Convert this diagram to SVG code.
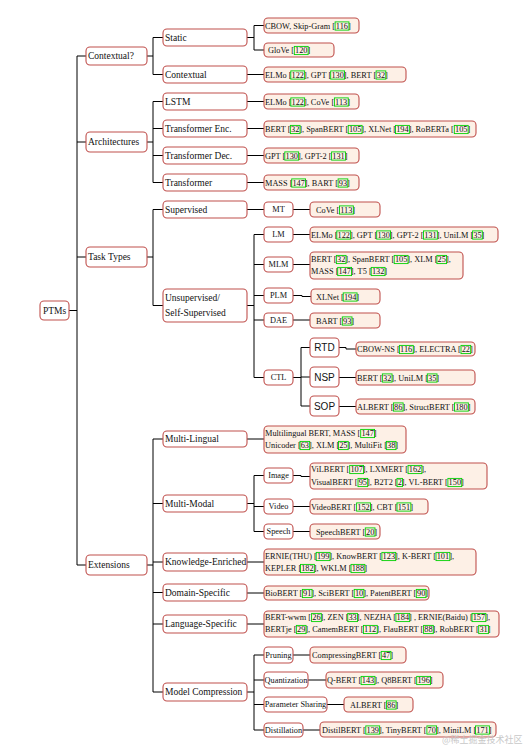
<svg xmlns="http://www.w3.org/2000/svg" width="523" height="745" viewBox="0 0 523 745">
<style>
.n{fill:#fff;stroke:#c0504d;stroke-width:1.1}
.l{fill:#fdf0e6;stroke:#c0504d;stroke-width:1.1}
.t1{font-family:"Liberation Serif",serif;font-size:9.5px;fill:#111}
.t{font-family:"Liberation Serif",serif;font-size:8.3px;fill:#111}
.m{text-anchor:middle}
.s{font-family:"Liberation Sans",sans-serif;font-size:10px;fill:#111;text-anchor:middle}
.c{fill:none;stroke:#00d000;stroke-width:0.9}
.e{fill:none;stroke:#000;stroke-width:1}
.w{font-family:"Noto Sans CJK SC",sans-serif;font-size:9px;fill:#c8c8c8}
</style>
<rect width="523" height="745" fill="#fff"/>
<g id="connectors" class="e">
<path d="M69 310.5H77M77 56V565M77 56H86M77 142H86M77 257H86M77 565H86"/>
<path d="M147 56H153M153 37.5V74.5M153 37.5H163M153 74.5H163"/>
<path d="M147 142H153M153 101.5V182.5M153 101.5H163M153 128.5H163M153 155.5H163M153 182.5H163"/>
<path d="M147 257H153M153 209.5V305.5M153 209.5H163M153 305.5H163"/>
<path d="M147 565H153M153 439V692M153 439H163M153 503.5H163M153 562H163M153 592.5H163M153 624H163M153 692H163"/>
<path d="M247 37.5H254M254 25.5V50M254 25.5H264M254 50H264"/>
<path d="M247 74.5H264M247 101.5H264M247 128.5H264M247 155.5H264M247 182.5H264"/>
<path d="M247 209.5H264M293 209.5H310"/>
<path d="M247 305.5H254M254 234.5V377.5M254 234.5H264M254 264.5H264M254 295.5H264M254 320H264M254 377.5H264"/>
<path d="M293 234.5H310M293 264.5H310M293 295.5H302V296.5H311M293 320H310"/>
<path d="M293 377.5H301M301 347.5V406M301 347.5H310M301 377H310M301 406H310"/>
<path d="M339 347.5H346V349H356M339 377.5H356M339 406.5H356"/>
<path d="M247 439H264"/>
<path d="M247 503.5H254M254 475.5V531.5M254 475.5H264M254 506.5H264M254 531.5H264"/>
<path d="M293 475.5H301V476.5H310M293 506.5H310M293 531.5H310"/>
<path d="M247 562H264M247 593H264M247 624H264"/>
<path d="M247 692H254M254 655V730M254 655H264M254 680H264M254 704.5H264M254 730H264"/>
<path d="M293 655H310M308 680H326M327 704.5H344M303 730H320"/>
</g>
<g id="ptms"><rect class="n" x="40" y="301" width="29" height="19" rx="4"/><text class="t1 m" x="54.5" y="313.8">PTMs</text></g>
<g id="contextual-q"><rect class="n" x="86" y="47" width="61" height="18" rx="4"/><text class="t1" x="88" y="59.3">Contextual?</text></g>
<g id="architectures"><rect class="n" x="86" y="132" width="61" height="20" rx="4"/><text class="t1" x="88" y="145.3">Architectures</text></g>
<g id="task-types"><rect class="n" x="86" y="247" width="61" height="20" rx="4"/><text class="t1" x="88" y="260.3">Task Types</text></g>
<g id="extensions"><rect class="n" x="86" y="555" width="61" height="20" rx="4"/><text class="t1" x="88" y="568.3">Extensions</text></g>
<g id="static"><rect class="n" x="163" y="29" width="84" height="17" rx="4"/><text class="t1" x="165" y="40.8">Static</text></g>
<g id="contextual"><rect class="n" x="163" y="66" width="84" height="17" rx="4"/><text class="t1" x="165" y="77.8">Contextual</text></g>
<g id="lstm"><rect class="n" x="163" y="93" width="84" height="17" rx="4"/><text class="t1" x="165" y="104.8">LSTM</text></g>
<g id="tr-enc"><rect class="n" x="163" y="120" width="84" height="17" rx="4"/><text class="t1" x="165" y="131.8">Transformer Enc.</text></g>
<g id="tr-dec"><rect class="n" x="163" y="147" width="84" height="17" rx="4"/><text class="t1" x="165" y="158.8">Transformer Dec.</text></g>
<g id="transformer"><rect class="n" x="163" y="174" width="84" height="17" rx="4"/><text class="t1" x="165" y="185.8">Transformer</text></g>
<g id="supervised"><rect class="n" x="163" y="201" width="84" height="17" rx="4"/><text class="t1" x="165" y="212.8">Supervised</text></g>
<g id="unsupervised"><rect class="n" x="163" y="289" width="84" height="33" rx="4"/><text class="t1" x="165" y="301">Unsupervised/</text><text class="t1" x="165" y="316">Self-Supervised</text></g>
<g id="multi-lingual"><rect class="n" x="163" y="431" width="84" height="16" rx="4"/><text class="t1" x="165" y="442.3">Multi-Lingual</text></g>
<g id="multi-modal"><rect class="n" x="163" y="495" width="84" height="17" rx="4"/><text class="t1" x="165" y="506.8">Multi-Modal</text></g>
<g id="knowledge"><rect class="n" x="163" y="553" width="84" height="18" rx="4"/><text class="t1" x="165" y="565.3">Knowledge-Enriched</text></g>
<g id="domain"><rect class="n" x="163" y="584" width="84" height="17" rx="4"/><text class="t1" x="165" y="595.8">Domain-Specific</text></g>
<g id="language"><rect class="n" x="163" y="615" width="84" height="18" rx="4"/><text class="t1" x="165" y="627.3">Language-Specific</text></g>
<g id="compression"><rect class="n" x="163" y="683" width="84" height="18" rx="4"/><text class="t1" x="165" y="695.3">Model Compression</text></g>
<g id="mt"><rect class="n" x="264" y="202" width="29" height="15" rx="4"/><text class="t m" x="278.5" y="212.4">MT</text></g>
<g id="lm"><rect class="n" x="264" y="227" width="29" height="15" rx="4"/><text class="t m" x="278.5" y="237.4">LM</text></g>
<g id="mlm"><rect class="n" x="264" y="257" width="29" height="15" rx="4"/><text class="t m" x="278.5" y="267.4">MLM</text></g>
<g id="plm"><rect class="n" x="264" y="288" width="29" height="15" rx="4"/><text class="t m" x="278.5" y="298.4">PLM</text></g>
<g id="dae"><rect class="n" x="264" y="313" width="29" height="14" rx="4"/><text class="t m" x="278.5" y="322.9">DAE</text></g>
<g id="ctl"><rect class="n" x="264" y="370" width="29" height="15" rx="4"/><text class="t m" x="278.5" y="380.4">CTL</text></g>
<g id="rtd"><rect class="n" x="310" y="338" width="29" height="19" rx="4"/><text class="s" x="324.5" y="351">RTD</text></g>
<g id="nsp"><rect class="n" x="310" y="367" width="29" height="20" rx="4"/><text class="s" x="324.5" y="380.5">NSP</text></g>
<g id="sop"><rect class="n" x="310" y="396" width="29" height="20" rx="4"/><text class="s" x="324.5" y="409.5">SOP</text></g>
<g id="image"><rect class="n" x="264" y="468" width="29" height="15" rx="4"/><text class="t m" x="278.5" y="478.4">Image</text></g>
<g id="video"><rect class="n" x="264" y="499" width="29" height="15" rx="4"/><text class="t m" x="278.5" y="509.4">Video</text></g>
<g id="speech"><rect class="n" x="264" y="524" width="29" height="15" rx="4"/><text class="t m" x="278.5" y="534.4">Speech</text></g>
<g id="pruning"><rect class="n" x="264" y="647" width="29" height="16" rx="4"/><text class="t m" x="278.5" y="657.9">Pruning</text></g>
<g id="quantization"><rect class="n" x="264" y="672" width="44" height="16" rx="4"/><text class="t m" x="286" y="682.9">Quantization</text></g>
<g id="param-sharing"><rect class="n" x="264" y="697" width="63" height="15" rx="4"/><text class="t m" x="295.5" y="707.4">Parameter Sharing</text></g>
<g id="distillation"><rect class="n" x="264" y="723" width="39" height="14" rx="4"/><text class="t m" x="283.5" y="732.9">Distillation</text></g>

<g id="leaf-cbow"><rect class="l" x="264" y="18" width="95" height="15" rx="4"/><text class="t" x="265" y="28.5">CBOW, Skip-Gram [<tspan x="335.8">116</tspan>]</text><rect class="c" x="335.1" y="21.9" width="13.85" height="8.2"/></g>
<g id="leaf-glove"><rect class="l" x="264" y="43" width="70" height="14" rx="4"/><text class="t" x="268" y="53">GloVe [<tspan x="295">120</tspan>]</text><rect class="c" x="294.3" y="46.4" width="13.85" height="8.2"/></g>
<g id="leaf-ctx"><rect class="l" x="264" y="67" width="142" height="15" rx="4"/><text class="t" x="265" y="77.5">ELMo [<tspan x="291.5">122</tspan>], GPT [<tspan x="331.4">130</tspan>], BERT [<tspan x="376.8">32</tspan>]</text><rect class="c" x="290.8" y="70.9" width="13.85" height="8.2"/><rect class="c" x="330.7" y="70.9" width="13.85" height="8.2"/><rect class="c" x="376.1" y="70.9" width="9.7" height="8.2"/></g>
<g id="leaf-lstm"><rect class="l" x="264" y="94" width="95" height="15" rx="4"/><text class="t" x="265" y="104.5">ELMo [<tspan x="291.5">122</tspan>], CoVe [<tspan x="335.1">113</tspan>]</text><rect class="c" x="290.8" y="97.9" width="13.85" height="8.2"/><rect class="c" x="334.4" y="97.9" width="13.85" height="8.2"/></g>
<g id="leaf-enc"><rect class="l" x="264" y="121" width="212" height="16" rx="4"/><text class="t" x="265" y="132">BERT [<tspan x="291.05">32</tspan>], SpanBERT [<tspan x="348.9">105</tspan>], XLNet [<tspan x="396.2">194</tspan>], RoBERTa [<tspan x="455">105</tspan>]</text><rect class="c" x="290.35" y="125.4" width="9.7" height="8.2"/><rect class="c" x="348.2" y="125.4" width="13.85" height="8.2"/><rect class="c" x="395.5" y="125.4" width="13.85" height="8.2"/><rect class="c" x="454.3" y="125.4" width="13.85" height="8.2"/></g>
<g id="leaf-dec"><rect class="l" x="264" y="148" width="95" height="15" rx="4"/><text class="t" x="265" y="158.5">GPT [<tspan x="285.5">130</tspan>], GPT-2 [<tspan x="332.3">131</tspan>]</text><rect class="c" x="284.8" y="151.9" width="13.85" height="8.2"/><rect class="c" x="331.6" y="151.9" width="13.85" height="8.2"/></g>
<g id="leaf-tr"><rect class="l" x="264" y="175" width="95" height="15" rx="4"/><text class="t" x="265" y="185.5">MASS [<tspan x="292.4">147</tspan>], BART [<tspan x="338.8">93</tspan>]</text><rect class="c" x="291.7" y="178.9" width="13.85" height="8.2"/><rect class="c" x="338.1" y="178.9" width="9.7" height="8.2"/></g>
<g id="leaf-mt"><rect class="l" x="310" y="202" width="70" height="15" rx="4"/><text class="t" x="316" y="212.5">CoVe [<tspan x="340.2">113</tspan>]</text><rect class="c" x="339.5" y="205.9" width="13.85" height="8.2"/></g>
<g id="leaf-lm"><rect class="l" x="310" y="227" width="188" height="15" rx="4"/><text class="t" x="311" y="237.5">ELMo [<tspan x="337.5">122</tspan>], GPT [<tspan x="377.4">130</tspan>], GPT-2 [<tspan x="424.2">131</tspan>], UniLM [<tspan x="473.3">35</tspan>]</text><rect class="c" x="336.8" y="230.9" width="13.85" height="8.2"/><rect class="c" x="376.7" y="230.9" width="13.85" height="8.2"/><rect class="c" x="423.5" y="230.9" width="13.85" height="8.2"/><rect class="c" x="472.6" y="230.9" width="9.7" height="8.2"/></g>
<g id="leaf-mlm"><rect class="l" x="310" y="252" width="153" height="27" rx="4"/><text class="t" x="311" y="262">BERT [<tspan x="337.05">32</tspan>], SpanBERT [<tspan x="394.9">105</tspan>], XLM [<tspan x="437.6">25</tspan>],</text><text class="t" x="311" y="274">MASS [<tspan x="338.4">147</tspan>], T5 [<tspan x="371.9">132</tspan>]</text><rect class="c" x="336.35" y="255.4" width="9.7" height="8.2"/><rect class="c" x="394.2" y="255.4" width="13.85" height="8.2"/><rect class="c" x="436.9" y="255.4" width="9.7" height="8.2"/><rect class="c" x="337.7" y="267.4" width="13.85" height="8.2"/><rect class="c" x="371.2" y="267.4" width="13.85" height="8.2"/></g>
<g id="leaf-plm"><rect class="l" x="311" y="289" width="69" height="15" rx="4"/><text class="t" x="316" y="299.5">XLNet [<tspan x="343.9">194</tspan>]</text><rect class="c" x="343.2" y="292.9" width="13.85" height="8.2"/></g>
<g id="leaf-dae"><rect class="l" x="310" y="313" width="70" height="15" rx="4"/><text class="t" x="316" y="323.5">BART [<tspan x="343">93</tspan>]</text><rect class="c" x="342.3" y="316.9" width="9.7" height="8.2"/></g>
<g id="leaf-rtd"><rect class="l" x="356" y="342" width="119" height="14" rx="4"/><text class="t" x="357" y="352">CBOW-NS [<tspan x="400.1">116</tspan>], ELECTRA [<tspan x="461.7">22</tspan>]</text><rect class="c" x="399.4" y="345.4" width="13.85" height="8.2"/><rect class="c" x="461" y="345.4" width="9.7" height="8.2"/></g>
<g id="leaf-nsp"><rect class="l" x="356" y="370" width="119" height="15" rx="4"/><text class="t" x="357" y="380.5">BERT [<tspan x="383.05">32</tspan>], UniLM [<tspan x="428">35</tspan>]</text><rect class="c" x="382.35" y="373.9" width="9.7" height="8.2"/><rect class="c" x="427.3" y="373.9" width="9.7" height="8.2"/></g>
<g id="leaf-sop"><rect class="l" x="356" y="399" width="119" height="15" rx="4"/><text class="t" x="357" y="409.5">ALBERT [<tspan x="394.1">86</tspan>], StructBERT [<tspan x="455.2">180</tspan>]</text><rect class="c" x="393.4" y="402.9" width="9.7" height="8.2"/><rect class="c" x="454.5" y="402.9" width="13.85" height="8.2"/></g>
<g id="leaf-ml"><rect class="l" x="264" y="426" width="142" height="27" rx="4"/><text class="t" x="265" y="436">Multilingual BERT, MASS [<tspan x="361.4">147</tspan>]</text><text class="t" x="265" y="448">Unicoder [<tspan x="300.7">63</tspan>], XLM [<tspan x="339.2">25</tspan>], MultiFit [<tspan x="387">38</tspan>]</text><rect class="c" x="360.7" y="429.4" width="13.85" height="8.2"/><rect class="c" x="300" y="441.4" width="9.7" height="8.2"/><rect class="c" x="338.5" y="441.4" width="9.7" height="8.2"/><rect class="c" x="386.3" y="441.4" width="9.7" height="8.2"/></g>
<g id="leaf-image"><rect class="l" x="310" y="463" width="177" height="26" rx="4"/><text class="t" x="311" y="472">ViLBERT [<tspan x="350.4">107</tspan>], LXMERT [<tspan x="408.75">162</tspan>],</text><text class="t" x="311" y="485">VisualBERT [<tspan x="358.7">95</tspan>], B2T2 [<tspan x="397.7">2</tspan>], VL-BERT [<tspan x="448.6">150</tspan>]</text><rect class="c" x="349.7" y="465.4" width="13.85" height="8.2"/><rect class="c" x="408.05" y="465.4" width="13.85" height="8.2"/><rect class="c" x="358" y="478.4" width="9.7" height="8.2"/><rect class="c" x="397" y="478.4" width="5.55" height="8.2"/><rect class="c" x="447.9" y="478.4" width="13.85" height="8.2"/></g>
<g id="leaf-video"><rect class="l" x="310" y="499" width="118" height="15" rx="4"/><text class="t" x="311" y="509.5">VideoBERT [<tspan x="357.3">152</tspan>], CBT [<tspan x="397.7">151</tspan>]</text><rect class="c" x="356.6" y="502.9" width="13.85" height="8.2"/><rect class="c" x="397" y="502.9" width="13.85" height="8.2"/></g>
<g id="leaf-speech"><rect class="l" x="310" y="524" width="70" height="15" rx="4"/><text class="t" x="316" y="534.5">SpeechBERT [<tspan x="366">20</tspan>]</text><rect class="c" x="365.3" y="527.9" width="9.7" height="8.2"/></g>
<g id="leaf-ke"><rect class="l" x="264" y="549" width="212" height="26" rx="4"/><text class="t" x="265" y="559">ERNIE(THU) [<tspan x="316.9">199</tspan>], KnowBERT [<tspan x="382.6">123</tspan>], K-BERT [<tspan x="436.7">101</tspan>],</text><text class="t" x="265" y="571">KEPLER [<tspan x="301.2">182</tspan>], WKLM [<tspan x="351.7">188</tspan>]</text><rect class="c" x="316.2" y="552.4" width="13.85" height="8.2"/><rect class="c" x="381.9" y="552.4" width="13.85" height="8.2"/><rect class="c" x="436" y="552.4" width="13.85" height="8.2"/><rect class="c" x="300.5" y="564.4" width="13.85" height="8.2"/><rect class="c" x="351" y="564.4" width="13.85" height="8.2"/></g>
<g id="leaf-domain"><rect class="l" x="264" y="586" width="165" height="14" rx="4"/><text class="t" x="265" y="596">BioBERT [<tspan x="303.05">91</tspan>], SciBERT [<tspan x="354.9">10</tspan>], PatentBERT [<tspan x="417">90</tspan>]</text><rect class="c" x="302.35" y="589.4" width="9.7" height="8.2"/><rect class="c" x="354.2" y="589.4" width="9.7" height="8.2"/><rect class="c" x="416.3" y="589.4" width="9.7" height="8.2"/></g>
<g id="leaf-lang"><rect class="l" x="264" y="611" width="235" height="26" rx="4"/><text class="t" x="265" y="620">BERT-wwm [<tspan x="312.3">26</tspan>], ZEN [<tspan x="348.45">33</tspan>], NEZHA [<tspan x="396.6">184</tspan>] , ERNIE(Baidu) [<tspan x="472.7">157</tspan>],</text><text class="t" x="265" y="632">BERTje [<tspan x="297.05">29</tspan>], CamemBERT [<tspan x="364.1">112</tspan>], FlauBERT [<tspan x="424.3">88</tspan>], RobBERT [<tspan x="479.4">31</tspan>]</text><rect class="c" x="311.6" y="613.4" width="9.7" height="8.2"/><rect class="c" x="347.75" y="613.4" width="9.7" height="8.2"/><rect class="c" x="395.9" y="613.4" width="13.85" height="8.2"/><rect class="c" x="472" y="613.4" width="13.85" height="8.2"/><rect class="c" x="296.35" y="625.4" width="9.7" height="8.2"/><rect class="c" x="363.4" y="625.4" width="13.85" height="8.2"/><rect class="c" x="423.6" y="625.4" width="9.7" height="8.2"/><rect class="c" x="478.7" y="625.4" width="9.7" height="8.2"/></g>
<g id="leaf-pruning"><rect class="l" x="310" y="647" width="96" height="16" rx="4"/><text class="t" x="312" y="658">CompressingBERT [<tspan x="381.9">47</tspan>]</text><rect class="c" x="381.2" y="651.4" width="9.7" height="8.2"/></g>
<g id="leaf-quant"><rect class="l" x="326" y="672" width="117" height="16" rx="4"/><text class="t" x="327" y="683">Q-BERT [<tspan x="361.8">143</tspan>], Q8BERT [<tspan x="417.4">196</tspan>]</text><rect class="c" x="361.1" y="676.4" width="13.85" height="8.2"/><rect class="c" x="416.7" y="676.4" width="13.85" height="8.2"/></g>
<g id="leaf-share"><rect class="l" x="344" y="697" width="69" height="15" rx="4"/><text class="t" x="350" y="707.5">ALBERT [<tspan x="387.1">86</tspan>]</text><rect class="c" x="386.4" y="700.9" width="9.7" height="8.2"/></g>
<g id="leaf-distil"><rect class="l" x="320" y="722" width="176" height="15" rx="4"/><text class="t" x="322" y="732.5">DistilBERT [<tspan x="366.5">139</tspan>], TinyBERT [<tspan x="427.6">70</tspan>], MiniLM [<tspan x="476.25">171</tspan>]</text><rect class="c" x="365.8" y="725.9" width="13.85" height="8.2"/><rect class="c" x="426.9" y="725.9" width="9.7" height="8.2"/><rect class="c" x="475.55" y="725.9" width="13.85" height="8.2"/></g>
<text class="w" x="442" y="743">@稀土掘金技术社区</text>
</svg>
